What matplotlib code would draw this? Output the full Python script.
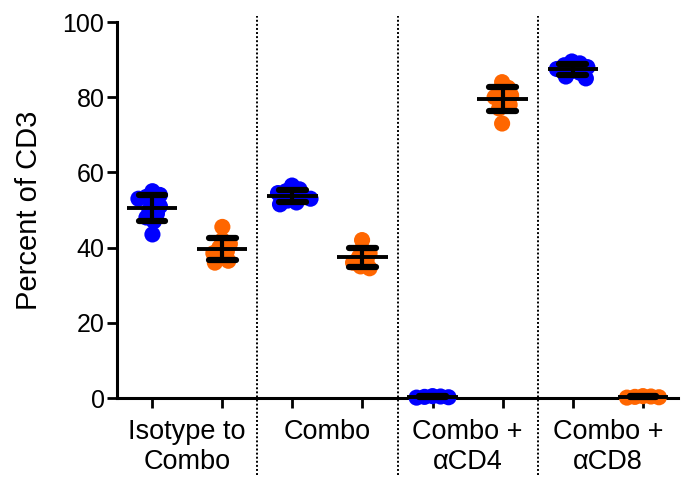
import numpy as np
import matplotlib
matplotlib.use("Agg")
import matplotlib.pyplot as plt

plt.rcParams['font.family'] = ['Liberation Sans', 'DejaVu Sans']

groups = ["Isotype to\nCombo", "Combo", "Combo +\nαCD4", "Combo +\nαCD8"]
blue_vals = [
    [55.0, 54.0, 53.5, 53.0, 52.0, 51.0, 50.0, 49.0, 48.0, 47.0, 43.5],
    [56.5, 55.5, 55.0, 54.5, 54.0, 53.5, 53.0, 52.5, 52.0, 51.5],
    [0.5, 0.4, 0.3, 0.2, 0.1],
    [89.5, 89.0, 88.5, 88.0, 87.5, 87.0, 86.5, 85.5, 85.0],
]
orange_vals = [
    [45.5, 42.0, 41.0, 40.0, 39.0, 38.5, 37.5, 36.5, 36.0],
    [42.0, 39.5, 38.5, 37.5, 36.5, 36.0, 35.0, 34.5],
    [84.0, 82.5, 81.5, 80.5, 80.0, 79.0, 78.0, 77.0, 73.0],
    [0.5, 0.4, 0.3, 0.2, 0.1],
]
blue_color = "#0000FF"
orange_color = "#FF6600"

W, H = 681, 480
fig = plt.figure(figsize=(W / 100, H / 100), dpi=100)
ax = fig.add_axes([117 / W, (480 - 398) / H, (678 - 117) / W, (398 - 22) / H])
ax.set_xlim(-0.5, 7.5)
ax.set_ylim(0, 100)

px_per_x = (678 - 117) / 8.0
px_per_y = (398 - 22) / 100.0
min_gap = 8.0  # allowed center distance in px (points overlap like the original)


def swarm(vals):
    order = np.argsort(vals)[::-1]
    placed = []
    offs = np.zeros(len(vals))
    for i in order:
        y = vals[i] * px_per_y
        cands = [0.0]
        for k in range(1, 80):
            cands += [k * 0.5, -k * 0.5]
        for c in cands:
            if all((px - c) ** 2 + (py - y) ** 2 >= min_gap ** 2 for (px, py) in placed):
                offs[i] = c
                placed.append((c, y))
                break
    offs = offs - offs.mean() * 0.5
    return offs / px_per_x


def draw_group(xc, vals, color):
    vals = np.array(vals)
    offs = swarm(vals)
    ax.scatter(xc + offs, vals, s=135, color=color, edgecolors='none', zorder=3, clip_on=False)
    m = vals.mean()
    sd = vals.std(ddof=1)
    ax.plot([xc - 0.36, xc + 0.36], [m, m], color='black', lw=2.8, zorder=4, solid_capstyle='butt', clip_on=False)
    ax.plot([xc, xc], [m - sd, m + sd], color='black', lw=3.0, zorder=4, clip_on=False)
    for yy in (m - sd, m + sd):
        ax.plot([xc - 0.19, xc + 0.19], [yy, yy], color='black', lw=4.5, zorder=4,
                solid_capstyle='round', clip_on=False)


for gi in range(4):
    draw_group(2 * gi, blue_vals[gi], blue_color)
    draw_group(2 * gi + 1, orange_vals[gi], orange_color)

for xd in (1.5, 3.5, 5.5):
    ax.plot([xd, xd], [-20.5, 101.6], color='black', lw=1.4, ls=(0, (1, 1.1)), clip_on=False, zorder=1)

for s in ('top', 'right'):
    ax.spines[s].set_visible(False)
for s in ('left', 'bottom'):
    ax.spines[s].set_linewidth(2.2)
ax.spines['bottom'].set_zorder(2)

ax.set_yticks([0, 20, 40, 60, 80, 100])
ax.tick_params(axis='y', length=7, width=2, labelsize=18, pad=2)
ax.set_xticks(range(8))
ax.set_xticklabels([])
ax.tick_params(axis='x', which='major', length=7, width=2)
ax.set_xticks([0.5, 2.5, 4.5, 6.5], minor=True)
ax.set_xticklabels(groups, minor=True, fontsize=19.5)
ax.tick_params(axis='x', which='minor', length=0, pad=15)

ax.set_ylabel("Percent of CD3", fontsize=21, labelpad=14)

fig.savefig("out.png", dpi=100)
